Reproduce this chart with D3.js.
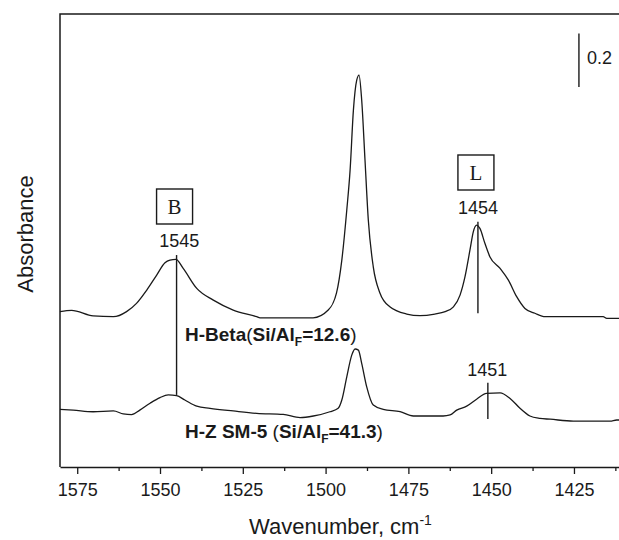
<!DOCTYPE html>
<html><head><meta charset="utf-8">
<script src="https://cdn.jsdelivr.net/npm/d3@7"></script>
<style>
body{margin:0;background:#fff}
svg{display:block}
text{font-family:"Liberation Sans",Arial,sans-serif;fill:#1a1a1a}
</style>
</head><body>
<svg id="c" width="619" height="540"></svg>
<script>
// ---- data ----
const wnBeta = [1580.2,1576.7,1570.2,1564.1,1560.1,1557.1,1554.0,1551.0,1548.5,1547.0,1545.2,1543.0,1538.9,1533.9,1527.9,1520.8,1519.8,1503.8,1499.2,1496.7,1495.1,1493.6,1492.6,1491.6,1490.6,1489.9,1489.1,1488.1,1487.1,1485.6,1483.6,1480.6,1475.5,1471.5,1467.0,1463.9,1461.4,1459.4,1457.9,1456.4,1455.4,1454.4,1453.4,1451.9,1450.4,1447.3,1444.8,1442.3,1439.8,1436.8,1433.7,1416.2,1415.1,1411.4];
const absBeta = [0.582,0.587,0.566,0.563,0.582,0.613,0.663,0.719,0.765,0.775,0.778,0.744,0.669,0.625,0.588,0.563,0.559,0.559,0.588,0.652,0.775,0.963,1.112,1.337,1.449,1.468,1.375,1.150,0.925,0.750,0.652,0.600,0.573,0.567,0.573,0.582,0.600,0.644,0.713,0.813,0.881,0.906,0.894,0.838,0.788,0.744,0.700,0.638,0.594,0.576,0.563,0.563,0.557,0.557];
const wnZSM = [1580.2,1576.2,1570.2,1564.1,1561.1,1558.6,1556.1,1553.0,1550.0,1547.5,1545.0,1542.5,1538.9,1534.9,1527.9,1520.8,1512.8,1507.7,1503.7,1498.7,1496.2,1495.1,1493.6,1492.1,1491.1,1490.1,1489.1,1487.6,1485.6,1482.6,1477.5,1473.5,1464.5,1462.4,1460.4,1457.4,1454.4,1451.4,1447.3,1444.3,1441.3,1438.3,1435.3,1432.2,1425.2,1414.1,1412.1,1411.4];
const absZSM = [0.216,0.213,0.207,0.210,0.199,0.196,0.213,0.239,0.260,0.270,0.267,0.251,0.228,0.220,0.210,0.201,0.197,0.185,0.191,0.207,0.220,0.251,0.338,0.419,0.442,0.438,0.388,0.301,0.232,0.216,0.207,0.191,0.191,0.195,0.213,0.228,0.254,0.276,0.278,0.257,0.220,0.191,0.182,0.179,0.172,0.172,0.176,0.176];

const xMajorTicks = [1575,1550,1525,1500,1475,1450,1425];
const xMinorTicks = [1562.5,1537.5,1512.5,1487.5,1462.5,1437.5,1412.5];

// peak marker lines: wavenumber, top absorbance, bottom absorbance
const markWn = [1545,1454,1451];
const markTop = [0.794,0.919,0.316];
const markBottom = [0.270,0.576,0.180];
const markLabels = ["1545","1454","1451"];
const bandLetters = ["B","L"];
const seriesNames = ["H-Beta","H-Z SM-5 "];
const seriesRatios = ["12.6","41.3"];
const scaleBarWn = 1423.5, scaleBarFrom = 1.424, scaleBarLen = 0.2;

// ---- layout ----
const svg = d3.select("#c");
const L=60, R=619, T=14, B=467;
const x = d3.scaleLinear().domain([1580.2,1411.4]).range([L,R]);
const y = d3.scaleLinear().domain([0,1.697]).range([B,T]);
const ink = "#1a1a1a";

// frame (left + top)
svg.append("path").attr("d",`M${L},${B}V${T}H${R}`).attr("fill","none").attr("stroke",ink).attr("stroke-width",1.5);

// bottom axis
const ax = svg.append("g").attr("transform",`translate(0,${B})`)
  .call(d3.axisBottom(x).tickValues(xMajorTicks).tickSize(7).tickSizeOuter(0).tickPadding(9.5).tickFormat(d3.format("d")));
ax.select(".domain").attr("stroke",ink).attr("stroke-width",1.5);
ax.selectAll(".tick line").attr("stroke",ink).attr("stroke-width",1.3);
ax.selectAll(".tick text").style("font-size","18px").style("fill",ink);
const axm = svg.append("g").attr("transform",`translate(0,${B})`)
  .call(d3.axisBottom(x).tickValues(xMinorTicks).tickSize(4).tickSizeOuter(0).tickFormat(""));
axm.select(".domain").remove();
axm.selectAll(".tick line").attr("stroke",ink).attr("stroke-width",1.3);

// axis titles
const xt = svg.append("text").attr("x",(L+R)/2+1).attr("y",534).attr("text-anchor","middle").attr("font-size",22);
xt.append("tspan").text("Wavenumber, cm");
xt.append("tspan").attr("font-size",14).attr("dy",-9).text("-1");
svg.append("text").attr("transform","translate(33,234) rotate(-90)").attr("text-anchor","middle").attr("font-size",22).text("Absorbance");

// spectra
const line = d3.line().x(d=>x(d[0])).y(d=>y(d[1])).curve(d3.curveMonotoneX);
svg.append("path").datum(d3.zip(wnBeta,absBeta)).attr("d",line).attr("fill","none").attr("stroke",ink).attr("stroke-width",1.3);
svg.append("path").datum(d3.zip(wnZSM,absZSM)).attr("d",line).attr("fill","none").attr("stroke",ink).attr("stroke-width",1.3);

// peak marker lines
markWn.forEach((w,i)=>{
  svg.append("line").attr("x1",x(w)).attr("x2",x(w)).attr("y1",y(markTop[i])).attr("y2",y(markBottom[i]))
    .attr("stroke",ink).attr("stroke-width",1.4);
});
// peak labels
const labelOffsets = [[2.6,246.5],[0,213.5],[-0.5,376]];
markLabels.forEach((t,i)=>{
  svg.append("text").attr("x",x(markWn[i])+labelOffsets[i][0]).attr("y",labelOffsets[i][1])
    .attr("text-anchor","middle").attr("font-size",18).text(t);
});
// band boxes B and L
const boxTops = [189,155];
bandLetters.forEach((t,i)=>{
  const cx = x(markWn[i]) - 2;
  svg.append("rect").attr("x",cx-18).attr("y",boxTops[i]).attr("width",36).attr("height",35)
    .attr("fill","none").attr("stroke",ink).attr("stroke-width",1.4);
  svg.append("text").attr("x",cx).attr("y",boxTops[i]+25).attr("text-anchor","middle")
    .style("font-size","21px").style("font-family","'Liberation Serif','Times New Roman',serif").text(t);
});

// series labels
const seriesY = [341,438];
seriesNames.forEach((n,i)=>{
  const t = svg.append("text").attr("x",185).attr("y",seriesY[i]).attr("font-size",19);
  t.append("tspan").attr("font-weight","bold").text(n);
  t.append("tspan").text("(");
  t.append("tspan").attr("font-weight","bold").text("Si/Al");
  t.append("tspan").attr("font-weight","bold").attr("font-size",12).attr("dy",5).text("F");
  t.append("tspan").attr("font-weight","bold").attr("dy",-5).text("="+seriesRatios[i]);
  t.append("tspan").text(")");
});

// scale bar
svg.append("line").attr("x1",x(scaleBarWn)).attr("x2",x(scaleBarWn))
  .attr("y1",y(scaleBarFrom)).attr("y2",y(scaleBarFrom+scaleBarLen)).attr("stroke",ink).attr("stroke-width",1.4);
svg.append("text").attr("x",x(scaleBarWn)+8).attr("y",64).attr("font-size",18).text(scaleBarLen.toString());
</script>
</body></html>
